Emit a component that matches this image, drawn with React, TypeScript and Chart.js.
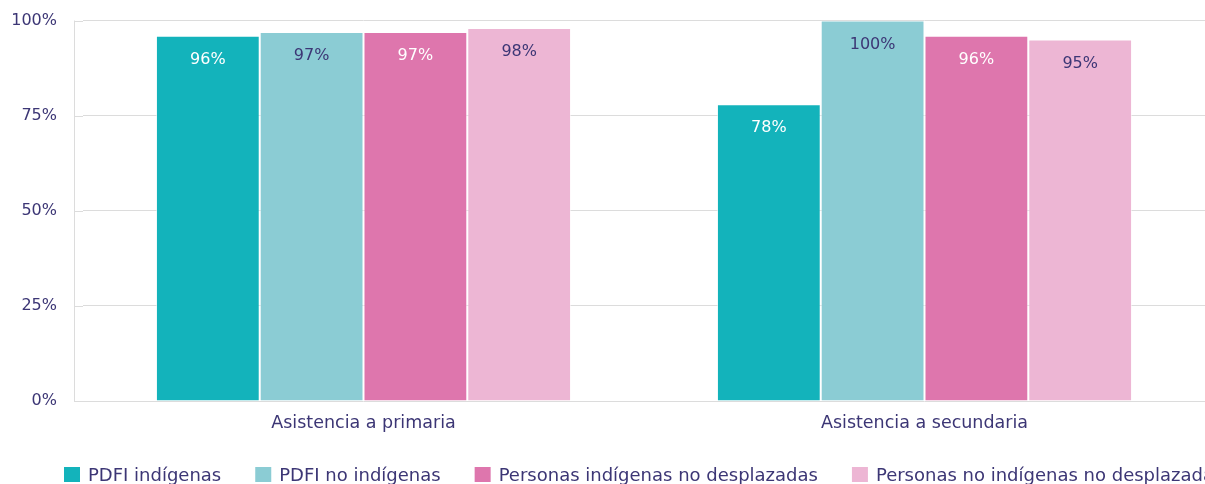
import React, { useEffect, useRef } from "react";
import { Chart, registerables } from "chart.js";

Chart.register(...registerables);

const categories = ["Asistencia a primaria", "Asistencia a secundaria"];
const seriesLabels = [
  "PDFI indígenas",
  "PDFI no indígenas",
  "Personas indígenas no desplazadas",
  "Personas no indígenas no desplazadas",
];
const pdfiIndigenas = [96, 78];
const pdfiNoIndigenas = [97, 100];
const indigenasNoDesplazadas = [97, 96];
const noIndigenasNoDesplazadas = [98, 95];
const yTicks = [0, 25, 50, 75, 100];

const colors = ["#13b3bb", "#8bccd4", "#de76ad", "#edb6d4"];
const labelColors = ["#ffffff", "#3c3675", "#ffffff", "#3c3675"];
const TEXT = "#3c3675";
const GRID = "#dcdcdc";
const FONT = "'DejaVu Sans', sans-serif";
const STUB = 9;

const valueLabels = {
  id: "valueLabels",
  afterDatasetsDraw(chart: any) {
    const ctx = chart.ctx;
    ctx.save();
    ctx.font = `16px ${FONT}`;
    ctx.textAlign = "center";
    ctx.textBaseline = "middle";
    chart.data.datasets.forEach((ds: any, i: number) => {
      const meta = chart.getDatasetMeta(i);
      meta.data.forEach((bar: any, j: number) => {
        ctx.fillStyle = labelColors[i];
        ctx.fillText(`${ds.data[j]}%`, bar.x, bar.y + 24);
      });
    });
    ctx.restore();
  },
};

const leftAxisLine = {
  id: "leftAxisLine",
  beforeDatasetsDraw(chart: any) {
    const { ctx, chartArea } = chart;
    const yScale = chart.scales.y;
    const x = chartArea.left - STUB + 0.5;
    ctx.save();
    ctx.strokeStyle = GRID;
    ctx.lineWidth = 1;
    ctx.beginPath();
    ctx.moveTo(x, chartArea.top);
    ctx.lineTo(x, chartArea.bottom);
    yScale.ticks.forEach((t: any) => {
      const y = Math.round(yScale.getPixelForValue(t.value)) + 0.5;
      ctx.moveTo(chartArea.left - STUB, y);
      ctx.lineTo(chartArea.left, y);
    });
    ctx.stroke();
    ctx.restore();
  },
};

const bottomLegend = {
  id: "bottomLegend",
  afterDraw(chart: any) {
    const ctx = chart.ctx;
    ctx.save();
    ctx.font = `18px ${FONT}`;
    ctx.textBaseline = "alphabetic";
    ctx.textAlign = "left";
    let x = 64;
    const boxTop = 467;
    const baseline = 481;
    chart.data.datasets.forEach((ds: any) => {
      ctx.fillStyle = ds.backgroundColor;
      ctx.fillRect(x, boxTop, 16, 15);
      x += 16 + 8;
      ctx.fillStyle = TEXT;
      ctx.fillText(ds.label, x, baseline);
      x += ctx.measureText(ds.label).width + 34;
    });
    ctx.restore();
  },
};

export default function App() {
  const ref = useRef<HTMLCanvasElement>(null);
  useEffect(() => {
    document.body.style.margin = "0";
    const values = [pdfiIndigenas, pdfiNoIndigenas, indigenasNoDesplazadas, noIndigenasNoDesplazadas];
    const chart = new Chart(ref.current as HTMLCanvasElement, {
      type: "bar",
      data: {
        labels: categories,
        datasets: values.map((v, i) => ({
          label: seriesLabels[i],
          data: v,
          backgroundColor: colors[i],
          borderColor: "rgba(255,255,255,0.55)",
          borderWidth: 1,
          categoryPercentage: 0.74,
          barPercentage: 1,
        })),
      },
      options: {
        responsive: false,
        animation: false,
        layout: { padding: { top: 20.5, left: 0, right: 0, bottom: 0 } },
        plugins: {
          legend: { display: false },
          tooltip: { enabled: false },
        },
        scales: {
          x: {
            grid: { display: false, drawTicks: false },
            border: { display: false },
            ticks: { color: TEXT, font: { family: FONT, size: 17.5 }, padding: 12 },
            afterFit(scale: any) {
              scale.height = 83;
            },
          },
          y: {
            min: 0,
            max: 100,
            afterBuildTicks(scale: any) {
              scale.ticks = yTicks.map((v) => ({ value: v }));
            },
            grid: { color: GRID, lineWidth: 1, drawTicks: true, tickLength: 26, tickColor: "rgba(0,0,0,0)" },
            border: { display: false },
            ticks: {
              color: TEXT,
              font: { family: FONT, size: 16 },
              padding: 0,
              callback: (v: any) => `${v}%`,
            },
            afterFit(scale: any) {
              scale.width = 83;
            },
          },
        },
      },
      plugins: [leftAxisLine, valueLabels, bottomLegend],
    });
    return () => chart.destroy();
  }, []);
  return (
    <div style={{ width: 1205, height: 484, overflow: "hidden" }}>
      <canvas ref={ref} width={1205} height={484} />
    </div>
  );
}
